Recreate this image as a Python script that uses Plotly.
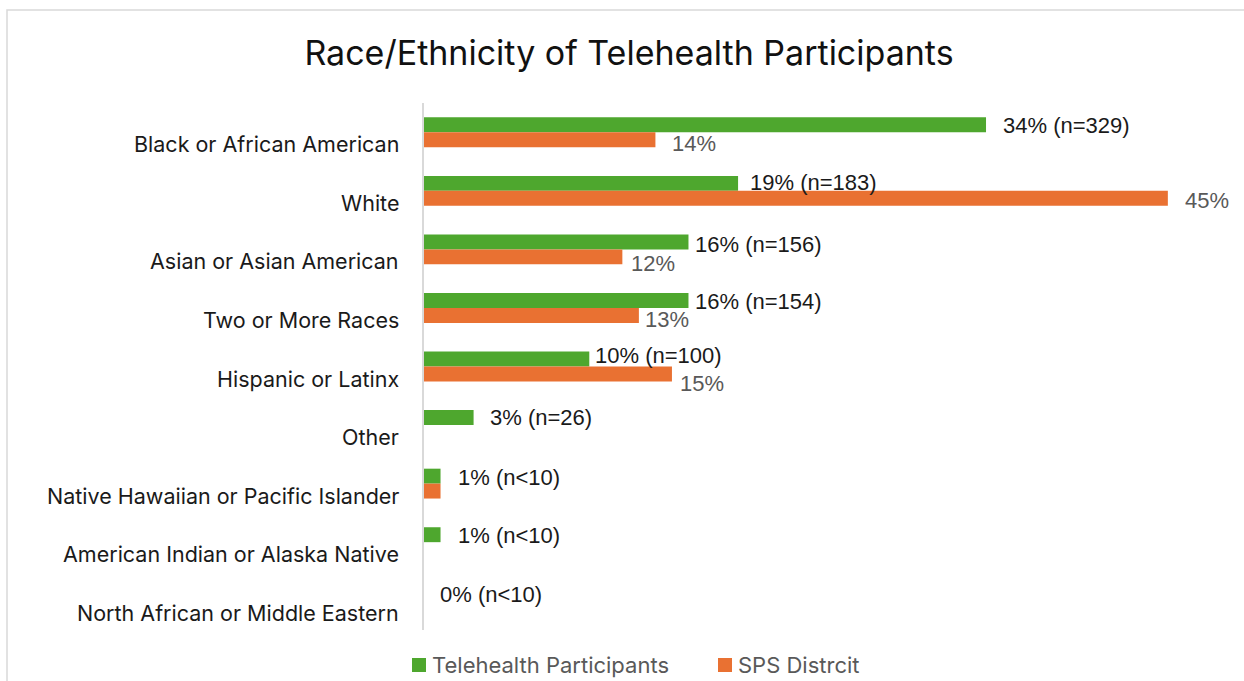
import plotly.graph_objects as go

categories = ["Black or African American", "White", "Asian or Asian American",
              "Two or More Races", "Hispanic or Latinx", "Other",
              "Native Hawaiian or Pacific Islander", "American Indian or Alaska Native",
              "North African or Middle Eastern"]
telehealth = [34, 19, 16, 16, 10, 3, 1, 1, 0]
sps_district = [14, 45, 12, 13, 15, 0, 1, 0, 0]
tele_labels = ["34% (n=329)", "19% (n=183)", "16% (n=156)", "16% (n=154)", "10% (n=100)",
               "3% (n=26)", "1% (n<10)", "1% (n<10)", "0% (n<10)"]
sps_labels = ["14%", "45%", "12%", "13%", "15%", "", "", "", ""]
series_names = ["Telehealth Participants", "SPS Distrcit"]

# label placement nudges (pixels): gap from bar end, vertical offset from bar centre
tele_gap = [17, 12, 7, 7, 6, 16, 17, 17, 16]
tele_dy = [1, -1, 2.5, 1.5, -4, 0, 1.5, 1, 1]
sps_gap = [17, 17, 9, 6, 8, 0, 0, 0, 0]
sps_dy = [4, 2, 6.5, 4, 9.5, 0, 0, 0, 0]

GREEN = "#4EA72E"
ORANGE = "#E97132"

W, H = 1244, 681
L, T, B, R = 424, 103, 51, 26
pw = W - L - R
ph = H - T - B
HALF_BAR = 7.5

def px_x(px):
    return (px - L) / pw

def px_y(py):
    return (H - B - py) / ph

fig = go.Figure()
fig.add_trace(go.Bar(y=categories, x=telehealth, orientation="h", name=series_names[0],
                     marker=dict(color=GREEN, line=dict(width=0))))
fig.add_trace(go.Bar(y=categories, x=sps_district, orientation="h", name=series_names[1],
                     marker=dict(color=ORANGE, line=dict(width=0))))

LBL_FONT = "Liberation Sans, Arial, sans-serif"
ann = []
for c in categories:
    ann.append(dict(x=0, xref="paper", y=c, yref="y", text=c, showarrow=False,
                    xanchor="right", yanchor="middle", xshift=-23, yshift=-12,
                    font=dict(family="Inter, sans-serif", size=21.5, color="#1a1a1a")))
for c, v, t, g, d in zip(categories, telehealth, tele_labels, tele_gap, tele_dy):
    if t:
        ann.append(dict(x=v, y=c, text=t, showarrow=False, xanchor="left", yanchor="middle",
                        xshift=g - 2, yshift=HALF_BAR - d,
                        font=dict(family=LBL_FONT, size=22, color="#1a1a1a")))
for c, v, t, g, d in zip(categories, sps_district, sps_labels, sps_gap, sps_dy):
    if t:
        ann.append(dict(x=v, y=c, text=t, showarrow=False, xanchor="left", yanchor="middle",
                        xshift=g - 2, yshift=-HALF_BAR - d,
                        font=dict(family=LBL_FONT, size=22, color="#595959")))

# custom legend (keys + text)
shapes = [dict(type="rect", xref="paper", yref="paper",
               x0=px_x(7), x1=px_x(1260), y0=px_y(700), y1=px_y(10),
               line=dict(color="#d9d9d9", width=1.5), fillcolor="rgba(0,0,0,0)", layer="below")]
legend_x = [412, 718]
for name, col, lx in zip(series_names, [GREEN, ORANGE], legend_x):
    shapes.append(dict(type="rect", xref="paper", yref="paper",
                       x0=px_x(lx), x1=px_x(lx + 14), y0=px_y(672), y1=px_y(658),
                       line=dict(width=0), fillcolor=col))
    ann.append(dict(x=px_x(lx + 18), xref="paper", y=px_y(665), yref="paper", text=name,
                    showarrow=False, xanchor="left", yanchor="middle",
                    font=dict(family="Inter, sans-serif", size=22, color="#595959")))

fig.update_layout(
    width=W, height=H,
    margin=dict(l=L, r=R, t=T, b=B, autoexpand=False),
    paper_bgcolor="white", plot_bgcolor="white",
    barmode="group", bargap=0.49, bargroupgap=0,
    title=dict(text="Race/Ethnicity of Telehealth Participants", x=629 / W, xanchor="center",
               y=1 - 53 / H, yanchor="middle",
               font=dict(family="Inter, sans-serif", size=34, color="#111111")),
    xaxis=dict(range=[0, pw / 16.53], showgrid=False, zeroline=False, showticklabels=False,
               showline=False, ticks=""),
    yaxis=dict(autorange="reversed", showticklabels=False, showgrid=False, zeroline=False,
               showline=True, linecolor="#d9d9d9", linewidth=1.5, ticks=""),
    showlegend=False,
    annotations=ann,
    shapes=shapes,
)
fig.update_traces(cliponaxis=False)

fig.write_html("out.html")
